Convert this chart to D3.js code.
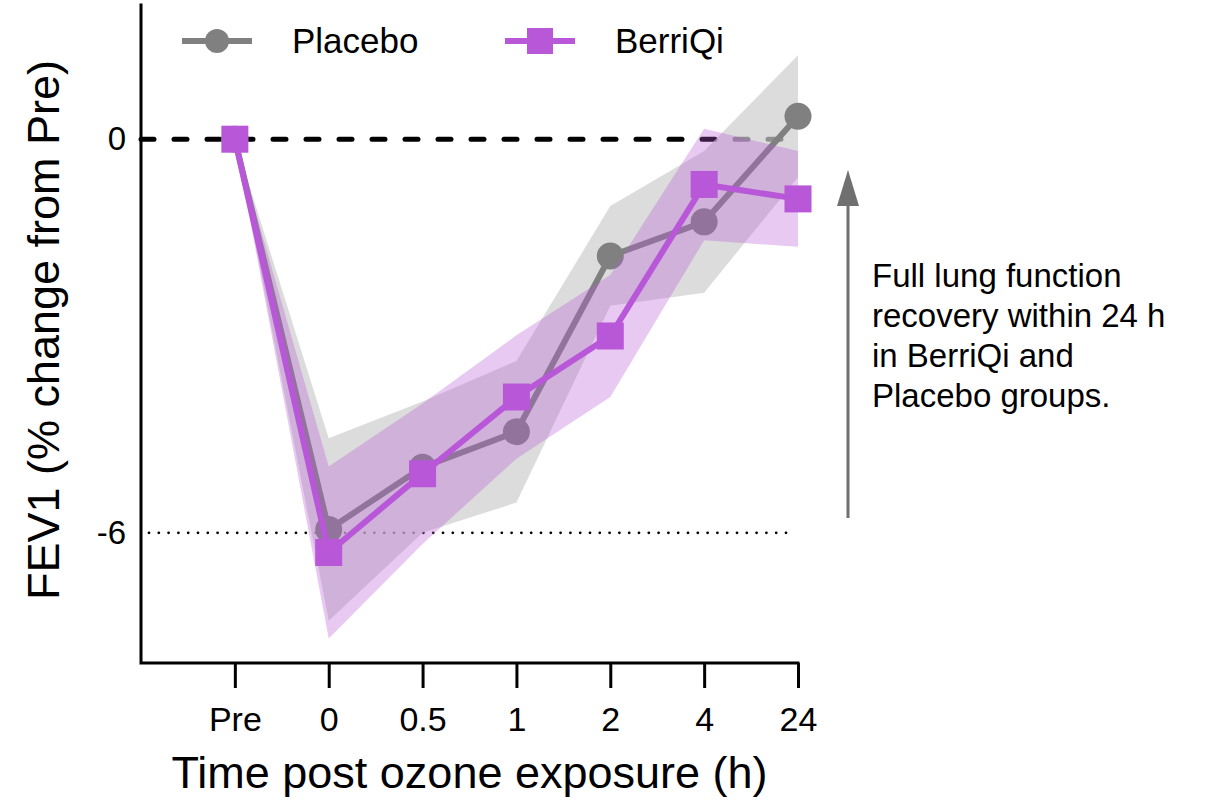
<!DOCTYPE html>
<html>
<head>
<meta charset="utf-8">
<script src="https://cdn.jsdelivr.net/npm/d3@7"></script>
<style>
body { margin: 0; background: #fff; }
text { font-family: "Liberation Sans", Arial, sans-serif; fill: #000; }
</style>
</head>
<body>
<div id="chart"></div>
<script>
// data (mean and +/- band half width)
let times = ['Pre', '0', '0.5', '1', '2', '4', '24'];
let placeboMean = [0, -5.95, -5.0, -4.46, -1.78, -1.26, 0.35];
let placeboSem = [0, 1.39, 1.0, 1.08, 0.76, 1.08, 0.93];
let berriMean = [0, -6.3, -5.1, -3.93, -3.0, -0.69, -0.91];
let berriSem = [0, 1.31, 1.07, 0.94, 0.93, 0.85, 0.73];
let yTicks = [0, -6];
let legendNames = ['Placebo', 'BerriQi'];
let noteLines = ['Full lung function', 'recovery within 24 h', 'in BerriQi and', 'Placebo groups.'];

let width = 1211, height = 804;
let plotLeft = 141, plotRight = 798, plotTop = 8, plotBottom = 664;

let svg = d3.select('#chart').append('svg')
    .attr('width', width)
    .attr('height', height);

let step = (plotRight - plotLeft) / times.length;
let x = d3.scalePoint().domain(times).range([plotLeft + step, plotRight]);
let y = d3.scaleLinear().domain([-8, 2]).range([plotBottom, plotTop]);

let series = [
    { name: legendNames[0], mean: placeboMean, sem: placeboSem, color: '#808080',
      band: 'rgb(205,205,205)', bandOpacity: 0.7, shape: 'circle' },
    { name: legendNames[1], mean: berriMean, sem: berriSem, color: '#b857d8',
      band: '#b857d8', bandOpacity: 0.32, shape: 'square' },
];

// reference lines (under the bands)
svg.append('line')
    .attr('x1', plotLeft).attr('x2', plotRight)
    .attr('y1', y(0)).attr('y2', y(0))
    .attr('stroke', '#000')
    .attr('stroke-width', 5)
    .attr('stroke-dasharray', '13 20')
    .attr('stroke-linecap', 'round');
svg.append('line')
    .attr('x1', plotLeft + 8).attr('x2', plotRight - 3)
    .attr('y1', y(-6)).attr('y2', y(-6))
    .attr('stroke', '#000')
    .attr('stroke-width', 2.8)
    .attr('stroke-dasharray', '0 9.8')
    .attr('stroke-linecap', 'round');

let area = d3.area()
    .x((d, i) => x(times[i]))
    .y0(d => y(d.m - d.s))
    .y1(d => y(d.m + d.s));
let line = d3.line()
    .x((d, i) => x(times[i]))
    .y(d => y(d.m));

series.forEach(s => {
    let pts = s.mean.map((m, i) => ({ m: m, s: s.sem[i] }));
    let g = svg.append('g');
    g.append('path')
        .attr('d', area(pts))
        .attr('fill', s.band)
        .attr('fill-opacity', s.bandOpacity);
    g.append('path')
        .attr('d', line(pts))
        .attr('fill', 'none')
        .attr('stroke', s.color)
        .attr('stroke-width', 6)
        .attr('stroke-linejoin', 'round');
    if (s.shape === 'circle') {
        g.selectAll('circle').data(pts).enter().append('circle')
            .attr('cx', (d, i) => x(times[i]))
            .attr('cy', d => y(d.m))
            .attr('r', 13.5)
            .attr('fill', s.color);
    } else {
        g.selectAll('rect').data(pts).enter().append('rect')
            .attr('x', (d, i) => x(times[i]) - 13.5)
            .attr('y', d => y(d.m) - 13.5)
            .attr('width', 27)
            .attr('height', 27)
            .attr('fill', s.color);
    }
});

// axes
let xAxis = d3.axisBottom(x).tickSize(25).tickPadding(19).tickSizeOuter(0);
let gx = svg.append('g')
    .attr('transform', 'translate(0,' + (plotBottom - 1) + ')')
    .call(xAxis);
gx.select('.domain').remove();
gx.selectAll('.tick line').attr('stroke', '#000').attr('stroke-width', 3);
gx.selectAll('.tick text').attr('font-size', 34).attr('font-family', '"Liberation Sans", Arial, sans-serif');

let yAxis = d3.axisLeft(y).tickValues(yTicks).tickSize(0).tickPadding(15).tickFormat(d => String(d));
let gy = svg.append('g')
    .attr('transform', 'translate(' + plotLeft + ',0)')
    .call(yAxis);
gy.select('.domain').remove();
gy.selectAll('.tick text').attr('font-size', 33).attr('font-family', '"Liberation Sans", Arial, sans-serif');

svg.append('path')
    .attr('d', 'M' + plotLeft + ',5V' + (plotBottom - 1) + 'H' + plotRight)
    .attr('fill', 'none')
    .attr('stroke', '#000')
    .attr('stroke-width', 3)
    .attr('stroke-linecap', 'square');

svg.append('text')
    .attr('x', (plotLeft + plotRight) / 2)
    .attr('y', 788)
    .attr('text-anchor', 'middle')
    .attr('font-size', 45)
    .text('Time post ozone exposure (h)');
svg.append('text')
    .attr('transform', 'translate(59,330) rotate(-90)')
    .attr('text-anchor', 'middle')
    .attr('font-size', 45)
    .text('FEV1 (% change from Pre)');

// legend
let legendX = [182, 505];
series.forEach((s, i) => {
    let lx = legendX[i], ly = 41;
    let g = svg.append('g');
    g.append('line')
        .attr('x1', lx).attr('x2', lx + 70)
        .attr('y1', ly).attr('y2', ly)
        .attr('stroke', s.color)
        .attr('stroke-width', 6);
    if (s.shape === 'circle') {
        g.append('circle').attr('cx', lx + 35).attr('cy', ly).attr('r', 12).attr('fill', s.color);
    } else {
        g.append('rect').attr('x', lx + 22).attr('y', ly - 13).attr('width', 26).attr('height', 26).attr('fill', s.color);
    }
    g.append('text')
        .attr('x', lx + 110)
        .attr('y', ly + 12)
        .attr('font-size', 35)
        .text(s.name);
});

// annotation arrow and note
svg.append('line')
    .attr('x1', 848).attr('x2', 848)
    .attr('y1', 518).attr('y2', 200)
    .attr('stroke', '#707070')
    .attr('stroke-width', 3);
svg.append('path')
    .attr('d', 'M848,170L859,206L837,206Z')
    .attr('fill', '#707070');
svg.append('g').selectAll('text').data(noteLines).enter().append('text')
    .attr('x', 872)
    .attr('y', (d, i) => 287 + i * 40)
    .attr('font-size', 33)
    .text(d => d);
</script>
</body>
</html>
